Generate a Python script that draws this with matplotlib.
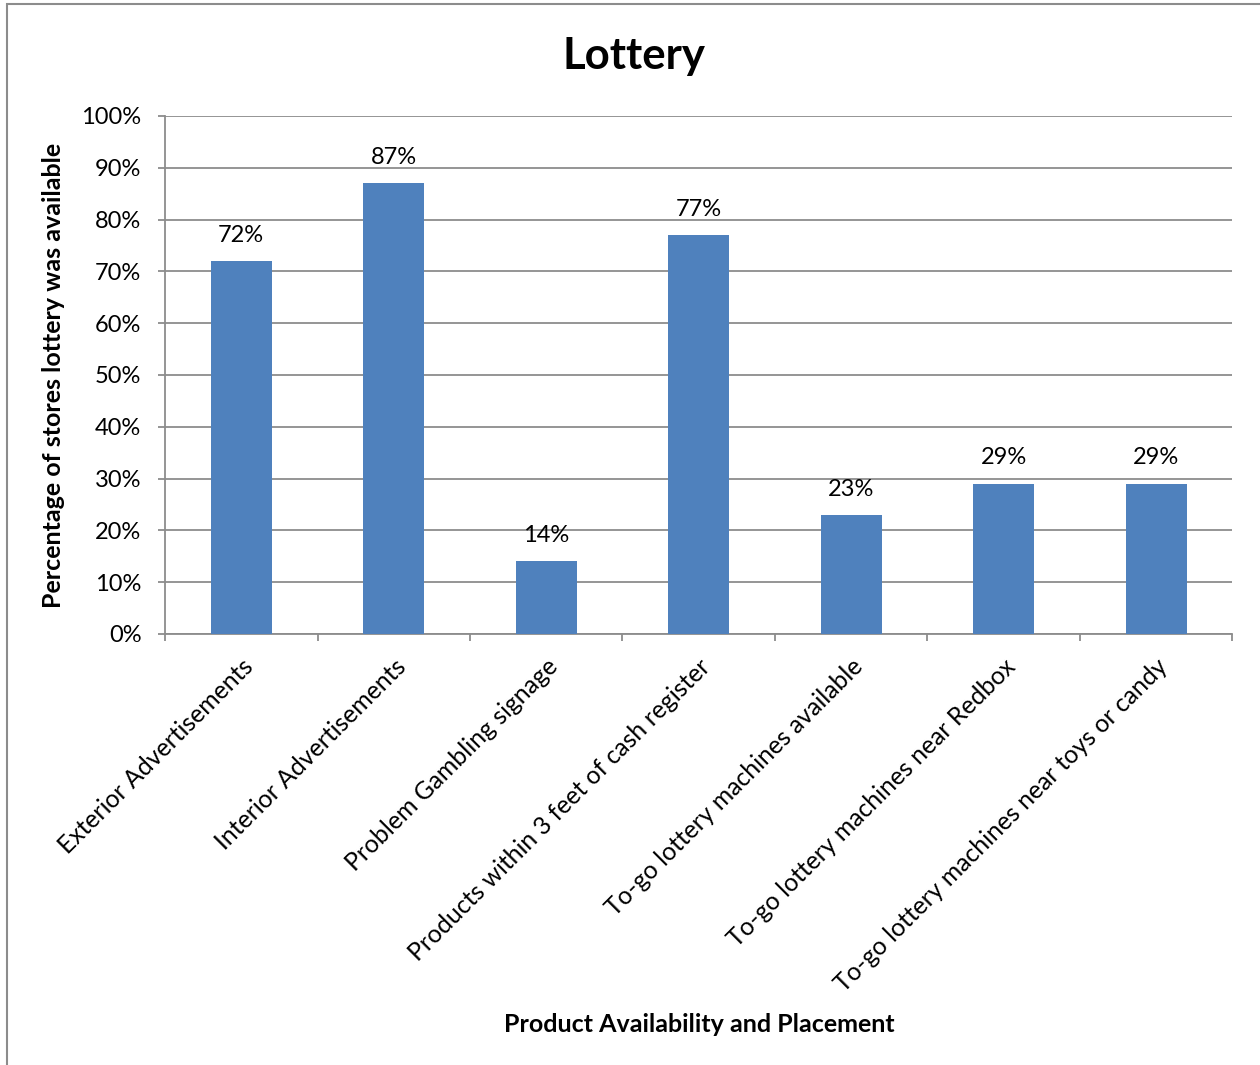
import matplotlib.pyplot as plt
from matplotlib.patches import Rectangle
from matplotlib.transforms import ScaledTranslation

# store survey: share of stores where each lottery item was seen
categories = ['Exterior Advertisements', 'Interior Advertisements',
              'Problem Gambling signage', 'Products within 3 feet of cash register',
              'To-go lottery machines available', 'To-go lottery machines near Redbox',
              'To-go lottery machines near toys or candy']
percent = [72, 87, 14, 77, 23, 29, 29]

plt.rcParams['font.family'] = ['Lato', 'DejaVu Sans']

fig = plt.figure(figsize=(12.6, 10.65), dpi=100)
ax = fig.add_axes([0.131, 0.4047, 0.847, 0.4864])

# outer chart frame
fig.patches.append(Rectangle((7 / 1260, -0.01), 1.0, 1 - 4 / 1065 + 0.01,
                             transform=fig.transFigure, fill=False,
                             edgecolor='#8c8c8c', lw=1.5))

x = range(len(categories))
bars = ax.bar(x, percent, width=0.4, color='#4f81bd', zorder=3)
for b, v in zip(bars, percent):
    ax.annotate(f'{v}%', (b.get_x() + b.get_width() / 2, v),
                xytext=(0, 11), textcoords='offset points',
                ha='center', va='bottom', fontsize=17)

ax.set_xlim(-0.5, len(categories) - 0.5)
ax.set_ylim(0, 100)
ax.set_yticks(range(0, 101, 10))
ax.set_yticklabels([f'{t}%' for t in range(0, 101, 10)], fontsize=17)
ax.yaxis.grid(True, color='#8c8c8c', lw=1.3, zorder=0)

ax.set_xticks([i - 0.5 for i in range(len(categories) + 1)])
ax.set_xticklabels([])
ax.set_xticks(list(x), minor=True)
ax.set_xticklabels(categories, minor=True, rotation=45, ha='right',
                   va='top', rotation_mode='anchor', fontsize=17.8)
# nudge the slanted labels a little left
shift = ScaledTranslation(-5 / 100, 0, fig.dpi_scale_trans)
for lbl in ax.get_xticklabels(minor=True):
    lbl.set_transform(lbl.get_transform() + shift)
ax.tick_params(axis='x', which='minor', length=0, pad=15)
ax.tick_params(axis='both', which='major', length=5, color='#8c8c8c',
               width=1.3, direction='out')
ax.tick_params(axis='y', pad=12)

for s in ['top', 'right']:
    ax.spines[s].set_visible(False)
for s in ['left', 'bottom']:
    ax.spines[s].set_color('#8c8c8c')
    ax.spines[s].set_linewidth(1.3)

ax.set_ylabel('Percentage of stores lottery was available', fontsize=18,
              fontweight='bold', labelpad=12)
fig.text(0.555, 0.031, 'Product Availability and Placement', ha='center',
         fontsize=18, fontweight='bold')
fig.text(0.503, 0.947, 'Lottery', ha='center', va='center', fontsize=31.5,
         fontweight='bold')

fig.savefig('out.png', dpi=100)
